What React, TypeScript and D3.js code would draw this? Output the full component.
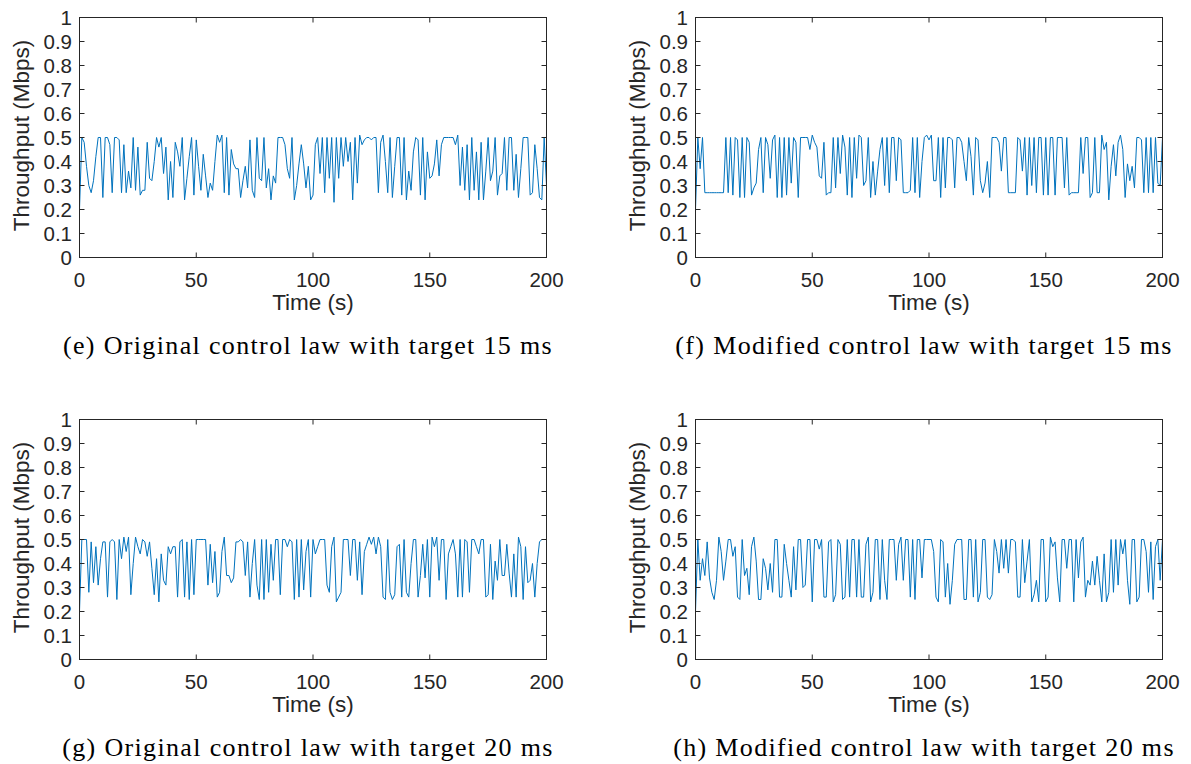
import React from "react";
import * as d3 from "d3";

const yTicks = [0, 0.1, 0.2, 0.3, 0.4, 0.5, 0.6, 0.7, 0.8, 0.9, 1];
const xTicks = [0, 50, 100, 150, 200];
const yTickLabels = ["0", "0.1", "0.2", "0.3", "0.4", "0.5", "0.6", "0.7", "0.8", "0.9", "1"];
const xTickLabels = ["0", "50", "100", "150", "200"];

const captions = [
  "(e) Original control law with target 15 ms",
  "(f) Modified control law with target 15 ms",
  "(g) Original control law with target 20 ms",
  "(h) Modified control law with target 20 ms",
];

const throughputE = [
  0.2, 0.5, 0.48, 0.38, 0.3, 0.27, 0.32, 0.42, 0.5, 0.5,
  0.25, 0.5, 0.5, 0.47, 0.27, 0.5, 0.5, 0.49, 0.27, 0.47,
  0.27, 0.36, 0.29, 0.5, 0.28, 0.46, 0.26, 0.28, 0.28, 0.48,
  0.33, 0.32, 0.4, 0.5, 0.46, 0.5, 0.35, 0.46, 0.24, 0.4,
  0.25, 0.48, 0.44, 0.38, 0.5, 0.24, 0.33, 0.42, 0.5, 0.26,
  0.49, 0.38, 0.28, 0.43, 0.34, 0.25, 0.31, 0.28, 0.4, 0.51,
  0.48, 0.51, 0.27, 0.5, 0.26, 0.45, 0.39, 0.37, 0.37, 0.25,
  0.32, 0.38, 0.29, 0.49, 0.28, 0.25, 0.5, 0.33, 0.32, 0.5,
  0.29, 0.37, 0.24, 0.34, 0.31, 0.5, 0.5, 0.5, 0.47, 0.37,
  0.33, 0.5, 0.24, 0.3, 0.39, 0.47, 0.39, 0.29, 0.38, 0.24,
  0.26, 0.47, 0.5, 0.35, 0.5, 0.27, 0.5, 0.33, 0.5, 0.23,
  0.5, 0.33, 0.5, 0.38, 0.5, 0.4, 0.48, 0.24, 0.5, 0.31,
  0.51, 0.47, 0.49, 0.5, 0.5, 0.49, 0.5, 0.5, 0.27, 0.48,
  0.51, 0.4, 0.27, 0.5, 0.25, 0.38, 0.5, 0.5, 0.26, 0.5,
  0.24, 0.36, 0.28, 0.44, 0.5, 0.49, 0.26, 0.5, 0.24, 0.44,
  0.33, 0.34, 0.39, 0.49, 0.34, 0.47, 0.5, 0.5, 0.5, 0.5,
  0.5, 0.47, 0.51, 0.3, 0.46, 0.28, 0.47, 0.24, 0.5, 0.28,
  0.44, 0.24, 0.48, 0.24, 0.36, 0.5, 0.32, 0.36, 0.5, 0.26,
  0.34, 0.35, 0.5, 0.28, 0.5, 0.5, 0.28, 0.43, 0.25, 0.37,
  0.5, 0.5, 0.5, 0.26, 0.27, 0.47, 0.37, 0.25, 0.24, 0.5,
  0.3,
];

const throughputF = [
  0.2, 0.5, 0.37, 0.5, 0.27, 0.27, 0.27, 0.27, 0.27, 0.27,
  0.27, 0.27, 0.27, 0.5, 0.27, 0.5, 0.26, 0.5, 0.49, 0.25,
  0.5, 0.25, 0.5, 0.48, 0.26, 0.29, 0.31, 0.45, 0.5, 0.27,
  0.5, 0.47, 0.33, 0.49, 0.51, 0.25, 0.5, 0.25, 0.5, 0.26,
  0.5, 0.31, 0.5, 0.48, 0.25, 0.5, 0.5, 0.5, 0.5, 0.45,
  0.51, 0.48, 0.46, 0.34, 0.33, 0.48, 0.26, 0.27, 0.27, 0.5,
  0.29, 0.5, 0.35, 0.51, 0.46, 0.26, 0.5, 0.25, 0.5, 0.33,
  0.51, 0.5, 0.3, 0.32, 0.5, 0.25, 0.4, 0.26, 0.36, 0.45,
  0.5, 0.3, 0.5, 0.27, 0.5, 0.5, 0.32, 0.5, 0.49, 0.27,
  0.27, 0.27, 0.28, 0.5, 0.27, 0.5, 0.25, 0.4, 0.5, 0.51,
  0.49, 0.51, 0.32, 0.32, 0.5, 0.25, 0.5, 0.29, 0.5, 0.5,
  0.49, 0.29, 0.5, 0.5, 0.48, 0.4, 0.32, 0.5, 0.42, 0.26,
  0.5, 0.49, 0.32, 0.27, 0.31, 0.4, 0.25, 0.5, 0.5, 0.5,
  0.48, 0.36, 0.5, 0.5, 0.27, 0.27, 0.27, 0.27, 0.5, 0.49,
  0.36, 0.5, 0.26, 0.5, 0.3, 0.5, 0.27, 0.5, 0.5, 0.26,
  0.5, 0.26, 0.5, 0.5, 0.26, 0.5, 0.5, 0.5, 0.29, 0.5,
  0.26, 0.27, 0.27, 0.27, 0.27, 0.5, 0.35, 0.5, 0.5, 0.25,
  0.27, 0.5, 0.27, 0.27, 0.51, 0.45, 0.48, 0.24, 0.38, 0.47,
  0.34, 0.48, 0.51, 0.45, 0.25, 0.39, 0.32, 0.38, 0.29, 0.5,
  0.5, 0.49, 0.27, 0.5, 0.27, 0.5, 0.27, 0.5, 0.31, 0.3,
  0.5,
];

const throughputG = [
  0.2, 0.5, 0.5, 0.5, 0.28, 0.49, 0.32, 0.47, 0.31, 0.42,
  0.49, 0.49, 0.26, 0.49, 0.5, 0.49, 0.25, 0.5, 0.42, 0.51,
  0.45, 0.51, 0.27, 0.4, 0.51, 0.47, 0.44, 0.5, 0.49, 0.43,
  0.49, 0.38, 0.27, 0.42, 0.24, 0.44, 0.33, 0.31, 0.47, 0.44,
  0.47, 0.47, 0.26, 0.49, 0.5, 0.26, 0.49, 0.25, 0.5, 0.27,
  0.5, 0.5, 0.5, 0.5, 0.5, 0.31, 0.48, 0.32, 0.45, 0.26,
  0.28, 0.45, 0.51, 0.35, 0.35, 0.32, 0.34, 0.49, 0.49, 0.5,
  0.49, 0.35, 0.49, 0.26, 0.4, 0.5, 0.31, 0.25, 0.5, 0.25,
  0.5, 0.28, 0.48, 0.33, 0.5, 0.5, 0.27, 0.5, 0.5, 0.47,
  0.5, 0.49, 0.25, 0.5, 0.26, 0.5, 0.29, 0.45, 0.5, 0.26,
  0.5, 0.44, 0.47, 0.5, 0.5, 0.5, 0.31, 0.28, 0.47, 0.51,
  0.24, 0.26, 0.28, 0.5, 0.5, 0.5, 0.35, 0.5, 0.5, 0.33,
  0.49, 0.27, 0.45, 0.48, 0.51, 0.48, 0.51, 0.44, 0.51, 0.47,
  0.26, 0.25, 0.5, 0.28, 0.25, 0.27, 0.47, 0.48, 0.26, 0.5,
  0.28, 0.26, 0.4, 0.5, 0.5, 0.26, 0.35, 0.48, 0.34, 0.5,
  0.26, 0.51, 0.47, 0.51, 0.33, 0.5, 0.5, 0.25, 0.44, 0.47,
  0.5, 0.44, 0.26, 0.5, 0.26, 0.5, 0.49, 0.28, 0.5, 0.5,
  0.47, 0.44, 0.5, 0.5, 0.26, 0.27, 0.48, 0.25, 0.41, 0.33,
  0.5, 0.35, 0.35, 0.48, 0.36, 0.26, 0.44, 0.26, 0.51, 0.47,
  0.25, 0.47, 0.32, 0.33, 0.4, 0.26, 0.4, 0.49, 0.5, 0.5,
  0.5,
];

const throughputH = [
  0.2, 0.5, 0.33, 0.42, 0.35, 0.49, 0.34, 0.28, 0.25, 0.33,
  0.51, 0.45, 0.33, 0.41, 0.5, 0.5, 0.43, 0.47, 0.26, 0.25,
  0.5, 0.35, 0.38, 0.27, 0.47, 0.51, 0.41, 0.25, 0.25, 0.42,
  0.38, 0.29, 0.4, 0.28, 0.5, 0.5, 0.26, 0.26, 0.48, 0.4,
  0.33, 0.26, 0.47, 0.29, 0.5, 0.5, 0.3, 0.31, 0.5, 0.5,
  0.24, 0.5, 0.5, 0.46, 0.5, 0.26, 0.26, 0.49, 0.5, 0.24,
  0.27, 0.5, 0.48, 0.25, 0.26, 0.5, 0.26, 0.5, 0.5, 0.26,
  0.5, 0.26, 0.26, 0.48, 0.51, 0.24, 0.28, 0.5, 0.5, 0.25,
  0.5, 0.33, 0.25, 0.5, 0.5, 0.5, 0.33, 0.48, 0.51, 0.33,
  0.5, 0.5, 0.26, 0.5, 0.25, 0.5, 0.5, 0.34, 0.5, 0.5,
  0.5, 0.5, 0.45, 0.26, 0.24, 0.5, 0.49, 0.26, 0.4, 0.23,
  0.33, 0.48, 0.5, 0.5, 0.5, 0.25, 0.25, 0.5, 0.5, 0.26,
  0.5, 0.24, 0.28, 0.5, 0.5, 0.26, 0.25, 0.27, 0.5, 0.45,
  0.36, 0.5, 0.38, 0.5, 0.36, 0.5, 0.5, 0.49, 0.26, 0.26,
  0.5, 0.32, 0.41, 0.5, 0.24, 0.27, 0.33, 0.24, 0.5, 0.5,
  0.24, 0.26, 0.51, 0.47, 0.49, 0.34, 0.24, 0.5, 0.5, 0.38,
  0.5, 0.5, 0.24, 0.5, 0.34, 0.49, 0.51, 0.26, 0.33, 0.31,
  0.41, 0.31, 0.43, 0.33, 0.24, 0.44, 0.24, 0.28, 0.5, 0.28,
  0.5, 0.31, 0.5, 0.44, 0.5, 0.33, 0.23, 0.5, 0.5, 0.24,
  0.26, 0.5, 0.5, 0.45, 0.28, 0.49, 0.25, 0.47, 0.5, 0.33,
  0.5,
];

const panels = [
  { data: throughputE, caption: captions[0], left: 79.5, top: 17.5 },
  { data: throughputF, caption: captions[1], left: 695.5, top: 17.5 },
  { data: throughputG, caption: captions[2], left: 79.5, top: 419.5 },
  { data: throughputH, caption: captions[3], left: 695.5, top: 419.5 },
];

const PW = 467;
const PH = 240;
const TICK = 5;
const AXIS_COLOR = "#262626";
const LINE_COLOR = "#0072BD";
const SANS = "'Liberation Sans', Arial, Helvetica, sans-serif";
const SERIF = "'Liberation Serif', 'Times New Roman', serif";

function Panel({ data, caption, left, top }: { data: number[]; caption: string; left: number; top: number }) {
  const x = d3.scaleLinear().domain([0, 200]).range([left, left + PW]);
  const y = d3.scaleLinear().domain([0, 1]).range([top + PH, top]);
  const line = d3
    .line<number>()
    .x((_, i) => x(i))
    .y((d) => y(d));
  const cx = left + PW / 2;
  return (
    <g>
      <rect x={left} y={top} width={PW} height={PH} fill="#fff" />
      <path d={line(data) || ""} fill="none" stroke={LINE_COLOR} strokeWidth={1} strokeLinejoin="round" />
      <rect x={left} y={top} width={PW} height={PH} fill="none" stroke={AXIS_COLOR} strokeWidth={1} />
      {yTicks.map((t, i) => (
        <g key={"y" + i}>
          <line x1={left} x2={left + TICK} y1={y(t)} y2={y(t)} stroke={AXIS_COLOR} />
          <line x1={left + PW} x2={left + PW - TICK} y1={y(t)} y2={y(t)} stroke={AXIS_COLOR} />
          <text
            x={left - 7.5}
            y={y(t)}
            textAnchor="end"
            dominantBaseline="central"
            fontFamily={SANS}
            fontSize={20.5}
            fill={AXIS_COLOR}
          >
            {yTickLabels[i]}
          </text>
        </g>
      ))}
      {xTicks.map((t, i) => (
        <g key={"x" + i}>
          <line x1={x(t)} x2={x(t)} y1={top + PH} y2={top + PH - TICK} stroke={AXIS_COLOR} />
          <line x1={x(t)} x2={x(t)} y1={top} y2={top + TICK} stroke={AXIS_COLOR} />
          <text
            x={x(t)}
            y={top + PH + 22}
            textAnchor="middle"
            dominantBaseline="central"
            fontFamily={SANS}
            fontSize={20.5}
            fill={AXIS_COLOR}
          >
            {xTickLabels[i]}
          </text>
        </g>
      ))}
      <text
        x={cx}
        y={top + PH + 45}
        textAnchor="middle"
        dominantBaseline="central"
        fontFamily={SANS}
        fontSize={22.5}
        fill={AXIS_COLOR}
      >
        Time (s)
      </text>
      <text
        transform={`translate(${left - 58},${top + PH / 2 - 2}) rotate(-90)`}
        textAnchor="middle"
        dominantBaseline="central"
        fontFamily={SANS}
        fontSize={22.5}
        fill={AXIS_COLOR}
      >
        Throughput (Mbps)
      </text>
      <text
        x={cx - 5}
        y={top + PH + 88}
        textAnchor="middle"
        dominantBaseline="central"
        fontFamily={SERIF}
        fontSize={26}
        letterSpacing={1.35}
        fill="#000"
      >
        {caption}
      </text>
    </g>
  );
}

export default function App() {
  return (
    <svg
      width={1191}
      height={764}
      style={{ position: "absolute", left: 0, top: 0, background: "#fff" }}
    >
      <rect width={1191} height={764} fill="#fff" />
      {panels.map((p, i) => (
        <Panel key={i} {...p} />
      ))}
    </svg>
  );
}
